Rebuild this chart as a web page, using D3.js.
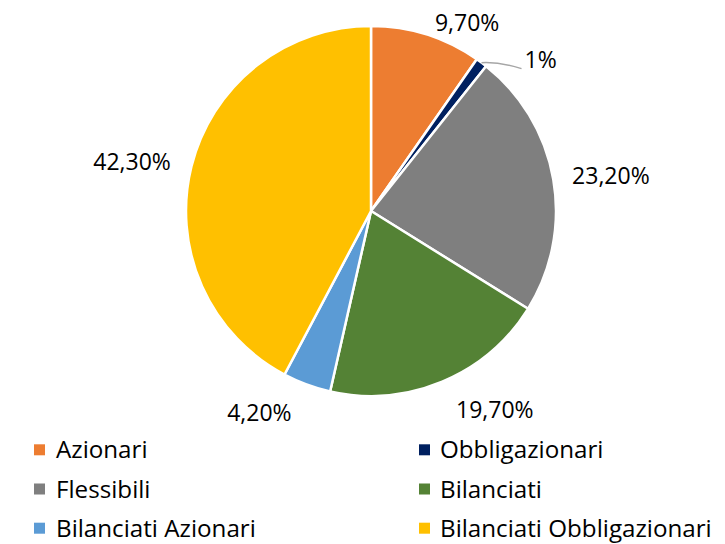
<!DOCTYPE html>
<html><head><meta charset="utf-8">
<script src="https://cdn.jsdelivr.net/npm/d3@7"></script>
<style>html,body{margin:0;padding:0;background:#fff;}svg{display:block;}</style>
</head><body>
<svg id="chart" width="725" height="544"></svg>
<script>
const categories = ["Azionari","Obbligazionari","Flessibili","Bilanciati","Bilanciati Azionari","Bilanciati Obbligazionari"];
const values = [9.7, 1, 23.2, 19.7, 4.2, 42.3];
const labels = ["9,70%","1%","23,20%","19,70%","4,20%","42,30%"];
const colors = ["#ED7D31","#002060","#7F7F7F","#548235","#5B9BD5","#FFC000"];

const svg = d3.select("#chart");
const cx = 371, cy = 211, R = 185;
const font = "'Open Sans', Lato, sans-serif";
const g = svg.append("g").attr("transform", `translate(${cx},${cy})`);

const pie = d3.pie().sort(null).value(d => d)(values);
const arc = d3.arc().innerRadius(0).outerRadius(R);

g.selectAll("path.slice").data(pie).join("path")
  .attr("class","slice")
  .attr("d", arc)
  .attr("fill", (d,i) => colors[i])
  .attr("stroke", "#fff").attr("stroke-width", 2.5).attr("stroke-linejoin","round");

const labelR = 200;
pie.forEach((d, i) => {
  const a = (d.startAngle + d.endAngle) / 2;
  const s = Math.sin(a), c = Math.cos(a);
  if (i === 1) {
    const x0 = s * R, y0 = -c * R;
    const x1 = x0 + 40, y1 = y0 + 6;
    g.append("path")
      .attr("d", `M${x0},${y0} Q${x0+18},${y0-1} ${x1},${y1}`)
      .attr("fill","none").attr("stroke","#A6A6A6").attr("stroke-width",1.5);
    g.append("text").attr("x", x1 + 3).attr("y", y1 - 1)
      .attr("text-anchor","start")
      .attr("font-family", font).attr("font-size", 23).attr("fill","#000")
      .text(labels[i]);
    return;
  }
  const bottom = c < -0.5, top = c > 0.5;
  const anchor = s > 0.25 ? "start" : (s < -0.25 ? "end" : "middle");
  const pad = (bottom ? 8 : 4) + (s < 0 ? 2 : 0);
  const x = s * labelR + (anchor === "start" ? pad : anchor === "end" ? -pad : 0);
  const y = -c * labelR + (bottom ? 22 : top ? 11 : 7);
  g.append("text").attr("x", x).attr("y", y)
    .attr("text-anchor", anchor)
    .attr("font-family", font).attr("font-size", 23).attr("fill","#000")
    .text(labels[i]);
});

// Legend
const legX = [34, 419], legY0 = 458.3, legDY = 39.2;
const leg = svg.append("g");
categories.forEach((cat, i) => {
  const col = i % 2, row = Math.floor(i / 2);
  const x = legX[col], y = legY0 + row * legDY;
  leg.append("rect").attr("x", x).attr("y", y - 14).attr("width", 11).attr("height", 11).attr("fill", colors[i]);
  leg.append("text").attr("x", x + (col === 0 ? 22 : 21)).attr("y", y)
    .attr("font-family", font).attr("font-size", 24.2).attr("fill","#000")
    .text(cat);
});
</script>
</body></html>
